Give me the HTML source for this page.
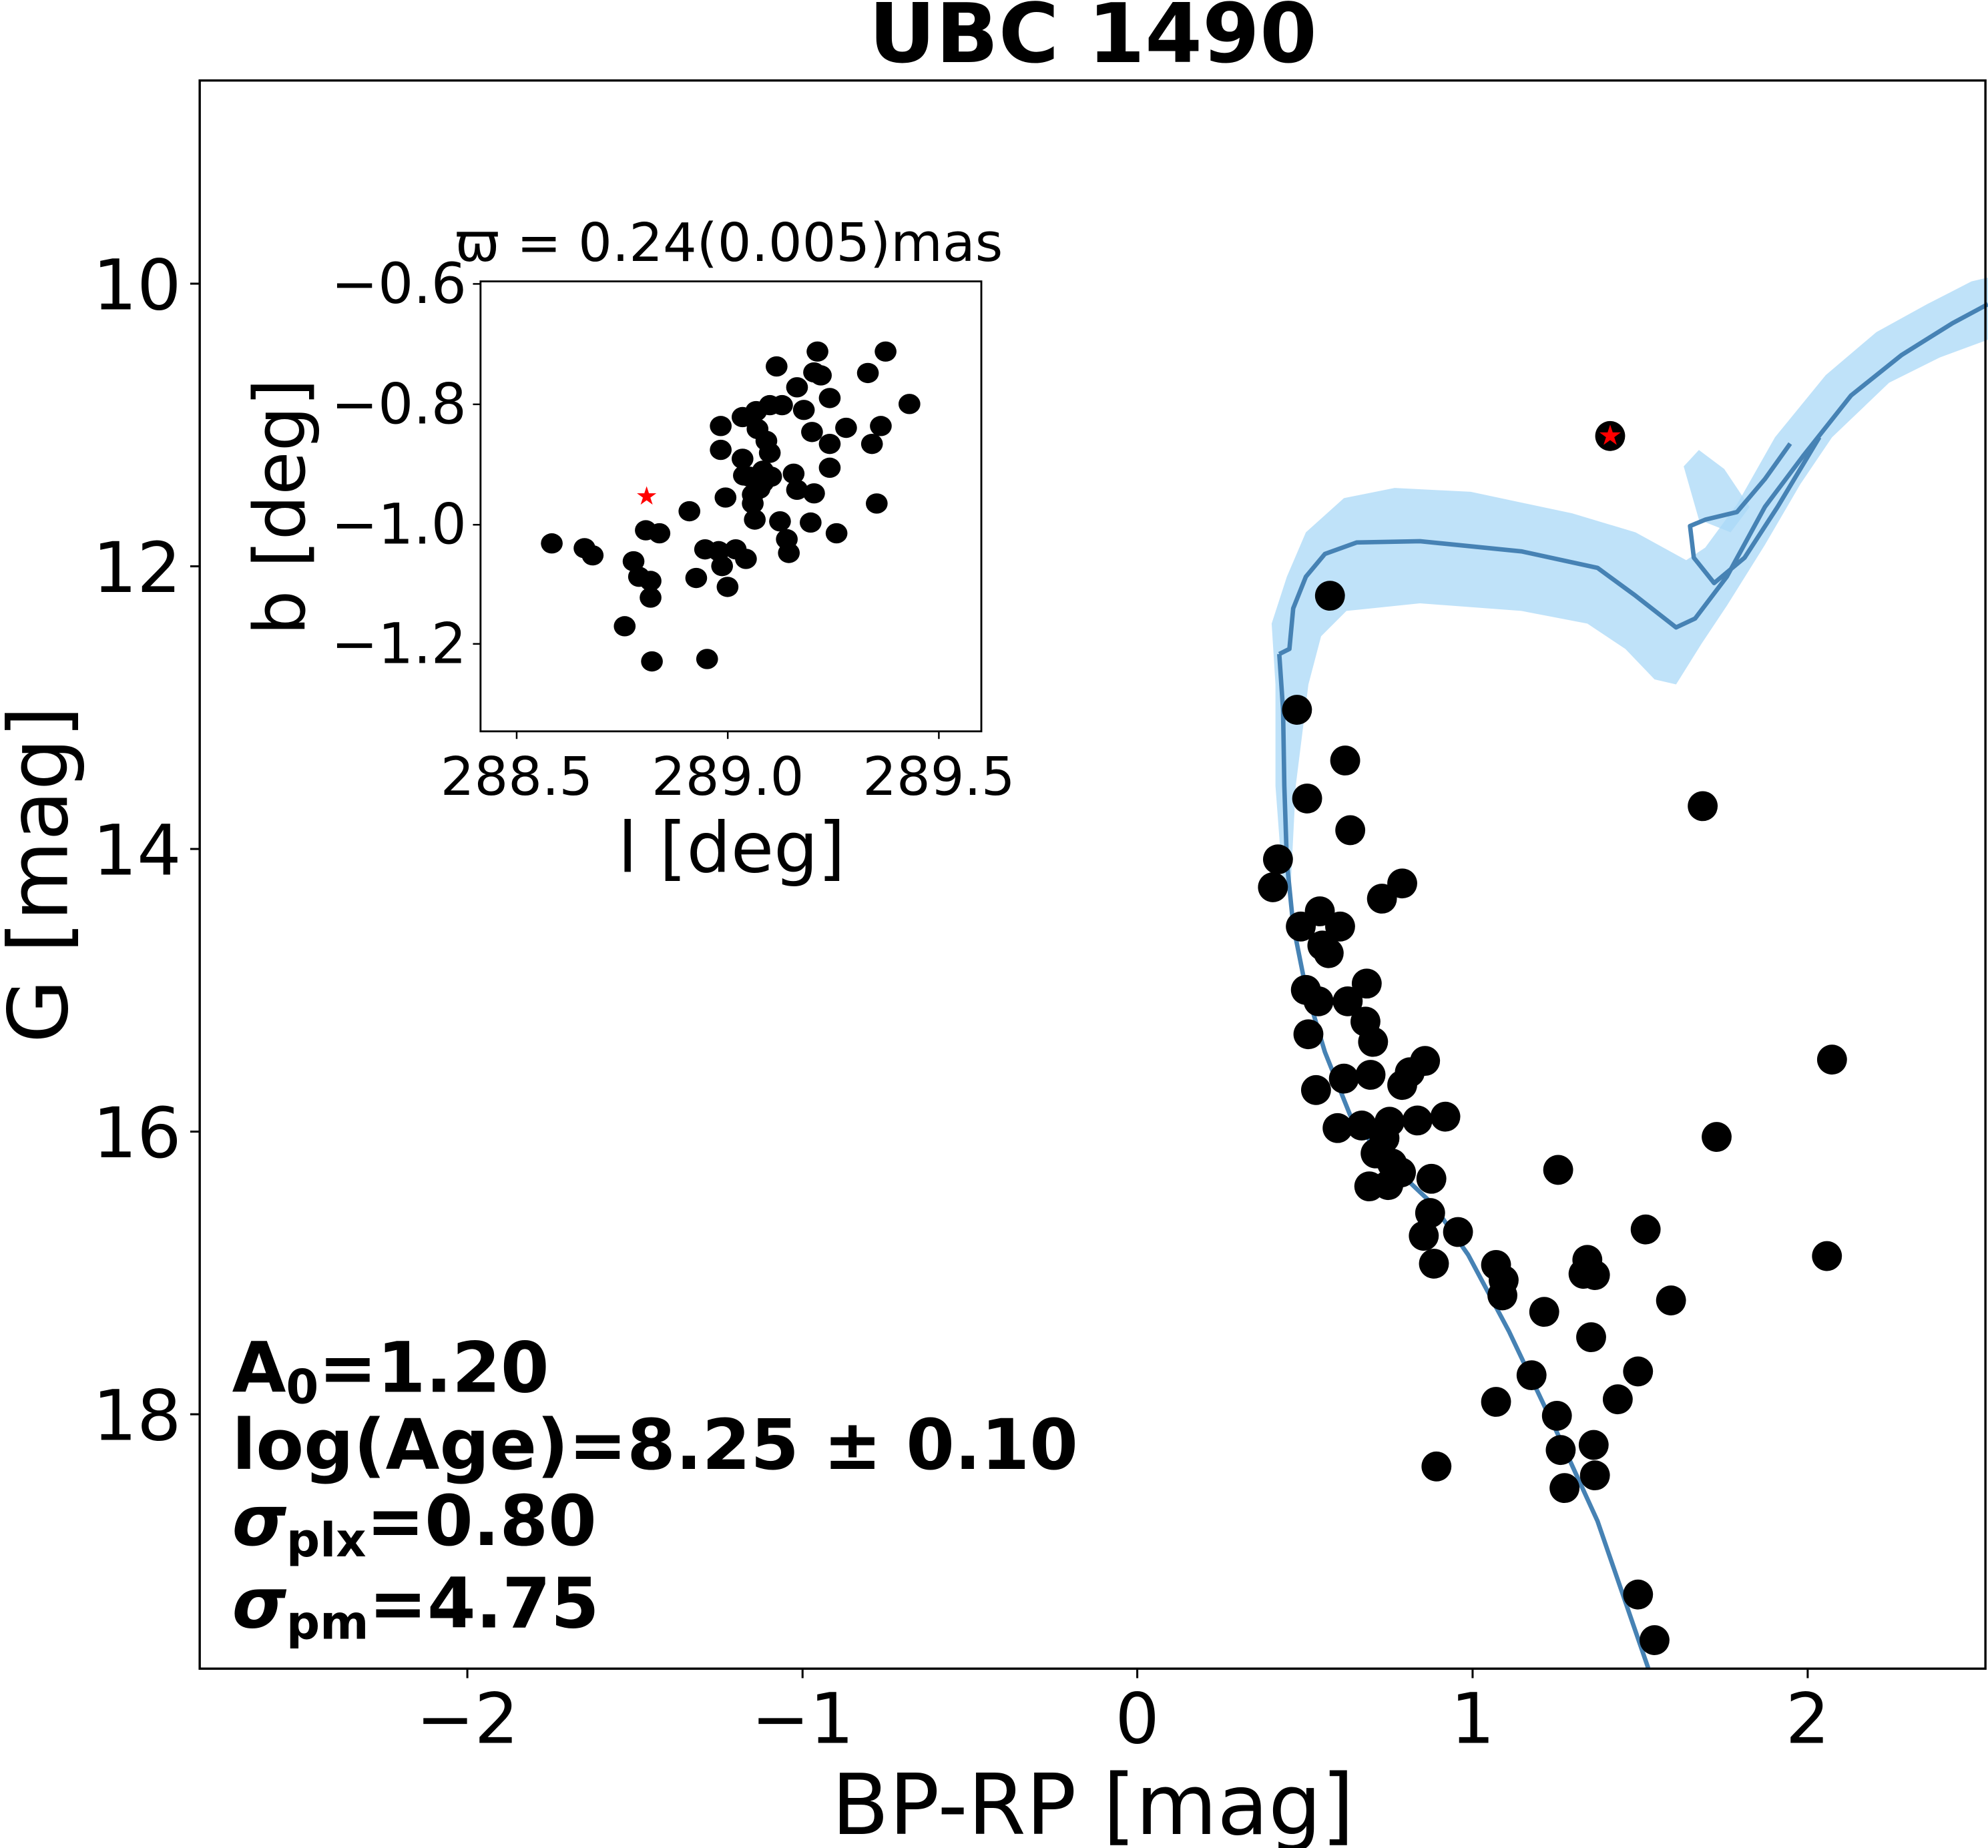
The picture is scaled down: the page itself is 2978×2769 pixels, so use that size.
<!DOCTYPE html>
<html><head><meta charset="utf-8"><style>html,body{margin:0;padding:0;background:#fff}svg{display:block}text{font-family:"DejaVu Sans","Liberation Sans",sans-serif;fill:#000}</style></head>
<body>
<svg width="2978" height="2769" viewBox="0 0 1568 1458" xmlns="http://www.w3.org/2000/svg">
<rect width="1568" height="1458" fill="#fff"/>
<text x="862" y="49" font-size="65" font-weight="bold" text-anchor="middle">UBC 1490</text>
<!-- band -->
<path d="M1003,492 L1015,455 L1030,420 L1060,393 L1100,385 L1160,388 L1240,405 L1290,420 L1330,442 L1345,432 L1370,398 L1400,345 L1440,296 L1480,262 L1520,240 L1555,222 L1568,219 L1568,268 L1530,282 L1490,302 L1445,345 L1420,382 L1392,430 L1362,478 L1342,508 L1322,540 L1305,536 L1282,512 L1252,492 L1200,482 L1120,476 L1062,482 L1042,502 L1032,540 L1022,620 L1018,700 L1012,700 L1006,620 L1006,540 Z" fill="#aad8f7" opacity="0.75"/>
<path d="M1328,368 L1340,355 L1360,370 L1380,400 L1365,420 L1340,410 Z" fill="#aad8f7" opacity="0.75"/>
<!-- isochrone -->
<g fill="none" stroke="#4682b4" stroke-width="3.5" stroke-linejoin="round">
<path d="M1009,516 L1017,512 L1020,480 L1030,455 L1045,437 L1070,428 L1120,427 L1200,435 L1260,448 L1290,470 L1322,495 L1337,488 L1362,455 L1392,400 L1422,360 L1460,312 L1500,280 L1540,255 L1568,240"/>
<path d="M1009,516 L1012,560 L1013,620 L1015,680 L1020,730 L1030,780 L1045,830 L1065,880 L1090,912 L1130,950 L1158,990 L1190,1050 L1228,1130 L1260,1200 L1300,1316"/>
<path d="M1435,345 L1402,400 L1376,440 L1352,460 L1336,440 L1333,415 L1345,410 L1370,404 L1392,378 L1412,350"/>
</g>
<!-- points -->
<g fill="#000">
<circle cx="1049" cy="470" r="11.8"/><circle cx="1023" cy="560" r="11.8"/><circle cx="1061" cy="600" r="11.8"/><circle cx="1031" cy="630" r="11.8"/><circle cx="1065" cy="655" r="11.8"/><circle cx="1343" cy="636" r="11.8"/><circle cx="1008" cy="678" r="11.8"/><circle cx="1004" cy="700" r="11.8"/><circle cx="1106" cy="697" r="11.8"/><circle cx="1090" cy="709" r="11.8"/><circle cx="1041" cy="719" r="11.8"/><circle cx="1026" cy="731" r="11.8"/><circle cx="1057" cy="731" r="11.8"/><circle cx="1048" cy="752" r="11.8"/><circle cx="1043" cy="746" r="11.8"/><circle cx="1078" cy="776" r="11.8"/><circle cx="1030" cy="781" r="11.8"/><circle cx="1040" cy="790" r="11.8"/><circle cx="1063" cy="790" r="11.8"/><circle cx="1077" cy="806" r="11.8"/><circle cx="1032" cy="816" r="11.8"/><circle cx="1083" cy="822" r="11.8"/><circle cx="1124" cy="837" r="11.8"/><circle cx="1060" cy="851" r="11.8"/><circle cx="1038" cy="860" r="11.8"/><circle cx="1081" cy="848" r="11.8"/><circle cx="1106" cy="856" r="11.8"/><circle cx="1112" cy="846" r="11.8"/><circle cx="1055" cy="890" r="11.8"/><circle cx="1074" cy="888" r="11.8"/><circle cx="1096" cy="885" r="11.8"/><circle cx="1118" cy="884" r="11.8"/><circle cx="1140" cy="881" r="11.8"/><circle cx="1092" cy="898" r="11.8"/><circle cx="1098" cy="918" r="11.8"/><circle cx="1080" cy="936" r="11.8"/><circle cx="1095" cy="935" r="11.8"/><circle cx="1105" cy="925" r="11.8"/><circle cx="1085" cy="910" r="11.8"/><circle cx="1129" cy="930" r="11.8"/><circle cx="1229" cy="923" r="11.8"/><circle cx="1445" cy="836" r="11.8"/><circle cx="1354" cy="897" r="11.8"/><circle cx="1128" cy="957" r="11.8"/><circle cx="1123" cy="975" r="11.8"/><circle cx="1150" cy="972" r="11.8"/><circle cx="1131" cy="997" r="11.8"/><circle cx="1180" cy="998" r="11.8"/><circle cx="1186" cy="1010" r="11.8"/><circle cx="1185" cy="1022" r="11.8"/><circle cx="1218" cy="1035" r="11.8"/><circle cx="1252" cy="994" r="11.8"/><circle cx="1249" cy="1005" r="11.8"/><circle cx="1258" cy="1006" r="11.8"/><circle cx="1298" cy="970" r="11.8"/><circle cx="1318" cy="1026" r="11.8"/><circle cx="1255" cy="1055" r="11.8"/><circle cx="1180" cy="1106" r="11.8"/><circle cx="1208" cy="1085" r="11.8"/><circle cx="1292" cy="1082" r="11.8"/><circle cx="1276" cy="1104" r="11.8"/><circle cx="1228" cy="1117" r="11.8"/><circle cx="1257" cy="1140" r="11.8"/><circle cx="1231" cy="1144" r="11.8"/><circle cx="1258" cy="1164" r="11.8"/><circle cx="1234" cy="1174" r="11.8"/><circle cx="1133" cy="1157" r="11.8"/><circle cx="1441" cy="991" r="11.8"/><circle cx="1292" cy="1258" r="11.8"/><circle cx="1305" cy="1294" r="11.8"/>
<circle cx="1270" cy="344" r="11.8"/>
</g>
<text x="1270" y="351" font-size="22" style="fill:red" text-anchor="middle">★</text>
<!-- main axes -->
<rect x="157.5" y="63.5" width="1408.5" height="1253" fill="none" stroke="#000" stroke-width="1.8"/>
<g stroke="#000" stroke-width="1.6">
<line x1="368.6" y1="1317" x2="368.6" y2="1324"/><line x1="633" y1="1317" x2="633" y2="1324"/><line x1="897" y1="1317" x2="897" y2="1324"/><line x1="1161.5" y1="1317" x2="1161.5" y2="1324"/><line x1="1425.8" y1="1317" x2="1425.8" y2="1324"/>
<line x1="150" y1="223.8" x2="157" y2="223.8"/><line x1="150" y1="446.8" x2="157" y2="446.8"/><line x1="150" y1="669.8" x2="157" y2="669.8"/><line x1="150" y1="892.8" x2="157" y2="892.8"/><line x1="150" y1="1115.8" x2="157" y2="1115.8"/>
</g>
<g font-size="55" text-anchor="middle">
<text x="368.6" y="1375">−2</text><text x="633" y="1375">−1</text><text x="897" y="1375">0</text><text x="1161.5" y="1375">1</text><text x="1425.8" y="1375">2</text>
</g>
<g font-size="55" text-anchor="end">
<text x="143" y="244">10</text><text x="143" y="467">12</text><text x="143" y="690">14</text><text x="143" y="913">16</text><text x="143" y="1136">18</text>
</g>
<text x="862" y="1447" font-size="66" text-anchor="middle">BP-RP [mag]</text>
<text transform="translate(53,690) rotate(-90)" font-size="65" text-anchor="middle">G [mag]</text>
<!-- annotations -->
<g font-size="55" font-weight="bold">
<text x="183" y="1098">A<tspan font-size="37" dy="9">0</tspan><tspan dy="-9">=1.20</tspan></text>
<text x="183" y="1159">log(Age)=8.25 ± 0.10</text>
<text x="183" y="1219"><tspan font-style="italic">σ</tspan><tspan font-size="37" dy="9">plx</tspan><tspan dy="-9">=0.80</tspan></text>
<text x="183" y="1284"><tspan font-style="italic">σ</tspan><tspan font-size="37" dy="9">pm</tspan><tspan dy="-9">=4.75</tspan></text>
</g>
<!-- inset -->
<rect x="379" y="222" width="395" height="355" fill="#fff" stroke="#000" stroke-width="1.5"/>
<g transform="scale(0.5373,0.4701)" fill="#000">
<ellipse cx="810" cy="912" rx="16" ry="17"/><ellipse cx="858" cy="920" rx="16" ry="17"/><ellipse cx="870" cy="932" rx="16" ry="17"/><ellipse cx="930" cy="942" rx="16" ry="17"/><ellipse cx="938" cy="968" rx="16" ry="17"/><ellipse cx="955" cy="975" rx="16" ry="17"/><ellipse cx="955" cy="1003" rx="16" ry="17"/><ellipse cx="917" cy="1051" rx="16" ry="17"/><ellipse cx="957" cy="1110" rx="16" ry="17"/><ellipse cx="1038" cy="1106" rx="16" ry="17"/><ellipse cx="948" cy="890" rx="16" ry="17"/><ellipse cx="968" cy="895" rx="16" ry="17"/><ellipse cx="1012" cy="858" rx="16" ry="17"/><ellipse cx="1022" cy="970" rx="16" ry="17"/><ellipse cx="1035" cy="922" rx="16" ry="17"/><ellipse cx="1055" cy="925" rx="16" ry="17"/><ellipse cx="1060" cy="950" rx="16" ry="17"/><ellipse cx="1068" cy="985" rx="16" ry="17"/><ellipse cx="1080" cy="922" rx="16" ry="17"/><ellipse cx="1095" cy="938" rx="16" ry="17"/><ellipse cx="1065" cy="835" rx="16" ry="17"/><ellipse cx="1092" cy="798" rx="16" ry="17"/><ellipse cx="1090" cy="770" rx="16" ry="17"/><ellipse cx="1105" cy="830" rx="16" ry="17"/><ellipse cx="1105" cy="845" rx="16" ry="17"/><ellipse cx="1108" cy="872" rx="16" ry="17"/><ellipse cx="1115" cy="820" rx="16" ry="17"/><ellipse cx="1120" cy="790" rx="16" ry="17"/><ellipse cx="1130" cy="760" rx="16" ry="17"/><ellipse cx="1125" cy="740" rx="16" ry="17"/><ellipse cx="1112" cy="720" rx="16" ry="17"/><ellipse cx="1130" cy="680" rx="16" ry="17"/><ellipse cx="1110" cy="690" rx="16" ry="17"/><ellipse cx="1090" cy="700" rx="16" ry="17"/><ellipse cx="1058" cy="715" rx="16" ry="17"/><ellipse cx="1058" cy="755" rx="16" ry="17"/><ellipse cx="1140" cy="615" rx="16" ry="17"/><ellipse cx="1148" cy="680" rx="16" ry="17"/><ellipse cx="1170" cy="650" rx="16" ry="17"/><ellipse cx="1180" cy="688" rx="16" ry="17"/><ellipse cx="1192" cy="725" rx="16" ry="17"/><ellipse cx="1200" cy="590" rx="16" ry="17"/><ellipse cx="1195" cy="625" rx="16" ry="17"/><ellipse cx="1205" cy="630" rx="16" ry="17"/><ellipse cx="1218" cy="668" rx="16" ry="17"/><ellipse cx="1218" cy="745" rx="16" ry="17"/><ellipse cx="1218" cy="785" rx="16" ry="17"/><ellipse cx="1242" cy="718" rx="16" ry="17"/><ellipse cx="1165" cy="795" rx="16" ry="17"/><ellipse cx="1170" cy="822" rx="16" ry="17"/><ellipse cx="1195" cy="828" rx="16" ry="17"/><ellipse cx="1190" cy="877" rx="16" ry="17"/><ellipse cx="1145" cy="875" rx="16" ry="17"/><ellipse cx="1155" cy="905" rx="16" ry="17"/><ellipse cx="1158" cy="928" rx="16" ry="17"/><ellipse cx="1228" cy="895" rx="16" ry="17"/><ellipse cx="1274" cy="626" rx="16" ry="17"/><ellipse cx="1300" cy="590" rx="16" ry="17"/><ellipse cx="1335" cy="678" rx="16" ry="17"/><ellipse cx="1280" cy="745" rx="16" ry="17"/><ellipse cx="1293" cy="715" rx="16" ry="17"/><ellipse cx="1287" cy="845" rx="16" ry="17"/><ellipse cx="1120" cy="810" rx="16" ry="17"/><ellipse cx="1132" cy="800" rx="16" ry="17"/><ellipse cx="1100" cy="800" rx="16" ry="17"/>
</g>
<text x="510" y="398" font-size="20" style="fill:red" text-anchor="middle">★</text>
<g stroke="#000" stroke-width="1.3">
<line x1="407.5" y1="577" x2="407.5" y2="583"/><line x1="574" y1="577" x2="574" y2="583"/><line x1="740.5" y1="577" x2="740.5" y2="583"/>
<line x1="373" y1="224" x2="379" y2="224"/><line x1="373" y1="319" x2="379" y2="319"/><line x1="373" y1="414" x2="379" y2="414"/><line x1="373" y1="508" x2="379" y2="508"/>
</g>
<g font-size="42" text-anchor="middle">
<text x="407.5" y="627">288.5</text><text x="574" y="627">289.0</text><text x="740.5" y="627">289.5</text>
</g>
<g font-size="44" text-anchor="end">
<text x="368" y="239">−0.6</text><text x="368" y="334">−0.8</text><text x="368" y="429">−1.0</text><text x="368" y="523">−1.2</text>
</g>
<text x="577" y="688" font-size="55" text-anchor="middle">l [deg]</text>
<text transform="translate(240,400) rotate(-90)" font-size="56" text-anchor="middle">b [deg]</text>
<text x="575" y="206" font-size="42" text-anchor="middle">ϖ = 0.24(0.005)mas</text>
</svg>
</body></html>
